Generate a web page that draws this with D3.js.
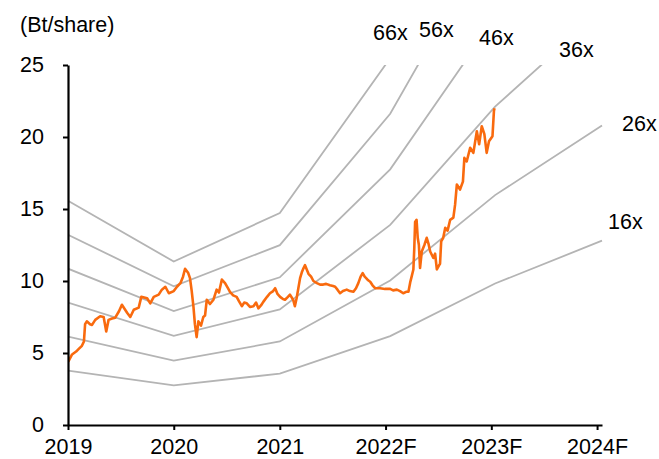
<!DOCTYPE html>
<html>
<head>
<meta charset="utf-8">
<script src="https://cdn.jsdelivr.net/npm/d3@7"></script>
<style>
  html, body { margin: 0; padding: 0; background: #fff; }
  svg { display: block; font-family: "Liberation Sans", Arial, sans-serif; }
</style>
</head>
<body>
<svg id="chart" width="659" height="459"></svg>
<script>
// Share price (Bt/share), sampled through the period
const priceDates = [
  "2019-01-02","2019-01-15","2019-01-29","2019-02-08","2019-02-18","2019-02-25","2019-03-01","2019-03-07",
  "2019-03-18","2019-03-25","2019-04-05","2019-04-22","2019-05-04","2019-05-13","2019-05-21","2019-06-02",
  "2019-06-13","2019-06-26","2019-07-06","2019-07-24","2019-08-04","2019-08-16","2019-09-02","2019-09-11",
  "2019-10-01","2019-10-12","2019-10-24","2019-11-10","2019-11-21","2019-12-03","2019-12-15","2020-01-01",
  "2020-01-12","2020-01-24","2020-02-02","2020-02-09","2020-02-20","2020-02-26","2020-03-03","2020-03-09",
  "2020-03-14","2020-03-20","2020-03-26","2020-04-04","2020-04-12","2020-04-18","2020-04-24","2020-05-05",
  "2020-05-17","2020-05-28","2020-06-05","2020-06-15","2020-06-26","2020-07-06","2020-07-13","2020-07-24",
  "2020-08-05","2020-08-13","2020-08-23","2020-08-31","2020-09-09","2020-09-20","2020-10-02","2020-10-11",
  "2020-10-19","2020-10-28","2020-11-05","2020-11-18","2020-11-28","2020-12-09","2020-12-16","2020-12-24",
  "2021-01-02","2021-01-12","2021-01-19","2021-01-29","2021-02-05","2021-02-16","2021-02-22","2021-02-28",
  "2021-03-06","2021-03-12","2021-03-18","2021-03-24","2021-03-29","2021-04-04","2021-04-10","2021-04-19",
  "2021-04-27","2021-05-09","2021-05-20","2021-05-31","2021-06-10","2021-06-23","2021-07-04","2021-07-11",
  "2021-07-19","2021-07-28","2021-08-07","2021-08-20","2021-08-31","2021-09-12","2021-09-21","2021-09-29",
  "2021-10-07","2021-10-14","2021-10-21","2021-10-26","2021-11-02","2021-11-09","2021-11-17","2021-11-26",
  "2021-12-13","2021-12-30","2022-01-17","2022-01-27","2022-02-09","2022-02-20","2022-03-03","2022-03-13",
  "2022-03-21","2022-03-27","2022-04-01","2022-04-07","2022-04-10","2022-04-13","2022-04-18","2022-04-22",
  "2022-04-26","2022-04-30","2022-05-06","2022-05-15","2022-05-23","2022-05-29","2022-06-04","2022-06-15",
  "2022-06-21","2022-06-27","2022-07-05","2022-07-08","2022-07-12","2022-07-19","2022-07-26","2022-08-03",
  "2022-08-12","2022-08-23","2022-08-29","2022-09-04","2022-09-15","2022-09-25","2022-09-30","2022-10-08",
  "2022-10-20","2022-10-31","2022-11-12","2022-11-20","2022-11-29","2022-12-08","2022-12-16","2022-12-24",
  "2023-01-05","2023-01-10","2023-01-12"
];
const priceValues = [
  4.4, 4.9, 5.1, 5.3, 5.5, 5.8, 7.0, 7.2,
  7.0, 6.95, 7.3, 7.55, 7.5, 6.5, 7.3, 7.4,
  7.45, 7.9, 8.35, 7.8, 7.5, 8.0, 8.15, 8.9,
  8.8, 8.45, 8.9, 9.05, 9.4, 9.6, 9.15, 9.3,
  9.6, 9.85, 10.3, 10.85, 10.55, 10.2, 9.3, 8.2,
  7.0, 6.1, 7.2, 6.9, 7.5, 7.6, 8.7, 8.4,
  8.7, 9.4, 9.2, 10.1, 9.85, 9.5, 9.25, 9.0,
  8.9, 8.6, 8.25, 8.5, 8.45, 8.2, 8.25, 8.5,
  8.1, 8.3, 8.55, 8.9, 9.15, 9.3, 9.5, 9.1,
  8.9, 8.75, 8.7, 8.9, 9.05, 8.7, 8.25, 8.8,
  9.5, 10.2, 10.6, 10.9, 11.1, 10.8, 10.5, 10.3,
  10.0, 9.85, 9.75, 9.75, 9.8, 9.7, 9.65, 9.6,
  9.4, 9.15, 9.3, 9.4, 9.3, 9.25, 9.5, 9.85,
  10.3, 10.55, 10.3, 10.2, 10.05, 9.95, 9.7, 9.5,
  9.5, 9.45, 9.45, 9.35, 9.4, 9.3, 9.15, 9.25,
  9.25, 9.9, 10.3, 10.8, 12.2, 14.1, 14.25, 13.0,
  12.5, 10.9, 12.05, 12.5, 13.0, 12.6, 12.05, 11.6,
  11.9, 10.8, 11.1, 11.2, 12.75, 13.0, 13.7, 13.5,
  14.25, 14.4, 15.3, 16.7, 16.35, 16.9, 18.55, 18.3,
  19.25, 18.9, 20.4, 19.5, 20.75, 20.2, 18.9, 19.7,
  20.05, 21.8, 22.0
];

// EPS (Bt/share) at each band anchor date
const epsDates = ["2019-01-01","2020-01-01","2021-01-01","2022-01-17","2023-01-14","2024-01-18"];
const epsValues = [0.236, 0.172, 0.223, 0.386, 0.614, 0.80];

// P/E multiples for the bands
const multiples = [16, 26, 36, 46, 56, 66];
const multipleLabels = ["16x", "26x", "36x", "46x", "56x", "66x"];

// Axis ticks
const xTickDates = ["2019-01-01","2020-01-01","2021-01-01","2022-01-01","2023-01-01","2024-01-01"];
const xTickLabels = ["2019", "2020", "2021", "2022F", "2023F", "2024F"];
const yTicks = [0, 5, 10, 15, 20, 25];
const yUnit = "(Bt/share)";

const parse = d3.timeParse("%Y-%m-%d");
const svg = d3.select("#chart");
const fontSize = 21.5;

const plot = { left: 68, right: 602, top: 65, bottom: 425 };

const x = d3.scaleTime()
  .domain([parse("2019-01-01"), parse("2024-01-18")])
  .range([plot.left, plot.right]);
const y = d3.scaleLinear().domain([0, 25]).range([plot.bottom, plot.top]);

svg.append("defs").append("clipPath").attr("id", "plotClip")
  .append("rect")
  .attr("x", plot.left).attr("y", plot.top)
  .attr("width", plot.right - plot.left + 2).attr("height", plot.bottom - plot.top);

// P/E band lines
const line = d3.line().x(d => x(d.date)).y(d => y(d.value));
const bands = multiples.map(m => ({
  m,
  points: epsDates.map((d, i) => ({ date: parse(d), value: epsValues[i] * m }))
}));

const g = svg.append("g").attr("clip-path", "url(#plotClip)");
g.selectAll("path.band")
  .data(bands)
  .join("path")
  .attr("class", "band")
  .attr("d", d => line(d.points))
  .attr("fill", "none")
  .attr("stroke", "#b4b4b4")
  .attr("stroke-width", 1.8);

// Share price line
const price = priceDates.map((d, i) => ({ date: parse(d), value: priceValues[i] }));
g.append("path")
  .datum(price)
  .attr("d", line)
  .attr("fill", "none")
  .attr("stroke", "#f96a0e")
  .attr("stroke-width", 2.6)
  .attr("stroke-linejoin", "round");

// Axes
const yAxis = svg.append("g")
  .attr("transform", `translate(${plot.left},0)`)
  .call(d3.axisLeft(y).tickValues(yTicks).tickSize(5).tickSizeOuter(0).tickPadding(19));
const xAxis = svg.append("g")
  .attr("transform", `translate(0,${plot.bottom})`)
  .call(d3.axisBottom(x)
    .tickValues(xTickDates.map(parse))
    .tickFormat((d, i) => xTickLabels[i])
    .tickSize(5).tickSizeOuter(0).tickPadding(9));

[yAxis, xAxis].forEach(ax => {
  ax.select(".domain").attr("stroke", "#000").attr("stroke-width", 2.2);
  ax.selectAll(".tick line").attr("stroke", "#000").attr("stroke-width", 2);
  ax.selectAll(".tick text")
    .attr("fill", "#000")
    .style("font-family", "'Liberation Sans', Arial, sans-serif")
    .style("font-size", fontSize + "px");
});

// Unit label
svg.append("text")
  .attr("x", 20).attr("y", 32)
  .attr("font-size", fontSize)
  .attr("fill", "#000")
  .text(yUnit);

// Multiple labels, placed beside the band ends
const labelPos = {
  "16x": [608, 229],
  "26x": [622, 131],
  "36x": [559, 57],
  "46x": [479, 45],
  "56x": [419, 37],
  "66x": [373, 40]
};
svg.selectAll("text.mult")
  .data(multipleLabels)
  .join("text")
  .attr("class", "mult")
  .attr("x", d => labelPos[d][0])
  .attr("y", d => labelPos[d][1])
  .attr("font-size", fontSize)
  .attr("fill", "#000")
  .text(d => d);
</script>
</body>
</html>
